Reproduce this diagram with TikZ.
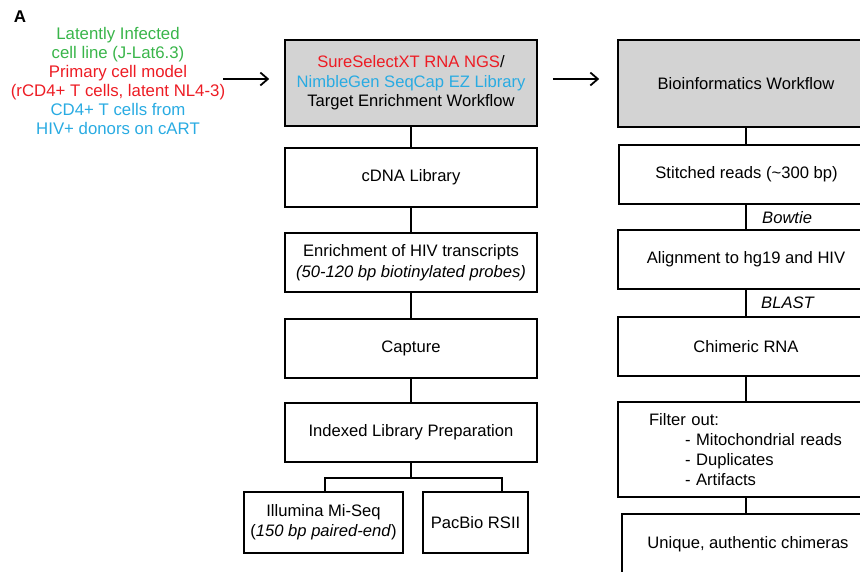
\documentclass[tikz,border=0pt]{standalone}
\usepackage{fontspec}
\setmainfont{Liberation Sans}
\usetikzlibrary{arrows.meta}
\definecolor{ggreen}{RGB}{57,181,74}
\definecolor{rred}{RGB}{237,28,36}
\definecolor{bblue}{RGB}{41,171,226}
\definecolor{hdrgray}{RGB}{211,211,211}
\tikzset{
  box/.style={draw=black, line width=1.6pt, fill=white, inner sep=0pt, align=center,
    font=\fontsize{16.6}{20}\selectfont},
  hdr/.style={box, fill=hdrgray},
  conn/.style={line width=1.6pt},
  arr/.style={line width=1.8pt, -{Straight Barb[length=7.5pt,width=13pt,line width=1.8pt]}},
  lab/.style={anchor=west, inner sep=0pt, font=\fontsize{16.6}{20}\selectfont\itshape}
}
\begin{document}
\begin{tikzpicture}[x=1pt,y=-1pt]
\useasboundingbox (0,0) rectangle (860,572);
\clip (0,0) rectangle (860,572);
% panel letter
\node[font=\fontsize{17}{20}\selectfont\bfseries, inner sep=0pt] (A) at (20,17) {A};
% source text
\node[inner sep=0pt, align=center, font=\fontsize{16.8}{19}\selectfont] (src) at (118,81)
 {\textcolor{ggreen}{Latently Infected}\\
  \textcolor{ggreen}{cell line (J-Lat6.3)}\\
  \textcolor{rred}{Primary cell model}\\
  \textcolor{rred}{(rCD4+ T cells, latent NL4-3)}\\
  \textcolor{bblue}{CD4+ T cells from}\\
  \textcolor{bblue}{HIV+ donors on cART}};
% middle column
\node[hdr, minimum width=252pt, minimum height=86pt, font=\fontsize{16.6}{19.5}\selectfont] (h1) at (411,83)
 {\textcolor{rred}{SureSelectXT RNA NGS}/\\
  \textcolor{bblue}{NimbleGen SeqCap EZ Library}\\
  Target Enrichment Workflow};
\node[box, minimum width=252pt, minimum height=59pt] (cdna) at (411,177.5) {cDNA Library};
\node[box, minimum width=252pt, minimum height=59pt, font=\fontsize{16.6}{20.5}\selectfont] (enr) at (411,262.5)
 {Enrichment of HIV transcripts\\ \textit{(50-120 bp biotinylated probes)}};
\node[box, minimum width=252pt, minimum height=59pt] (cap) at (411,348.5) {Capture};
\node[box, minimum width=252pt, minimum height=59pt] (idx) at (411,432.5) {Indexed Library Preparation};
\node[box, minimum width=159pt, minimum height=61pt] (ill) at (323.5,522.5)
 {Illumina Mi-Seq\\ (\textit{150 bp paired-end})};
\node[box, minimum width=105pt, minimum height=61pt] (pac) at (475.5,522.5) {PacBio RSII};
\draw[conn] (h1.south) -- (cdna.north);
\draw[conn] (cdna.south) -- (enr.north);
\draw[conn] (enr.south) -- (cap.north);
\draw[conn] (cap.south) -- (idx.north);
\coordinate (brL) at (325,478);
\coordinate (brR) at (502,478);
\draw[conn] (idx.south) -- (idx.south |- brL);
\draw[conn] (brL |- ill.north) -- (brL) -- (brR) -- (brR |- pac.north);
% right column
\node[hdr, minimum width=256pt, minimum height=87pt] (h2) at (746,83.5) {Bioinformatics Workflow};
\node[box, minimum width=255pt, minimum height=59pt] (st) at (746.5,174.5) {Stitched reads (\textasciitilde300 bp)};
\node[box, minimum width=256pt, minimum height=59pt] (al) at (746,259.5) {Alignment to hg19 and HIV};
\node[box, minimum width=256pt, minimum height=59pt] (chim) at (746,346.5) {Chimeric RNA};
\node[box, text width=194pt, inner xsep=31pt, minimum height=95pt, align=left,
      font=\fontsize{16.6}{20}\selectfont] (filt) at (746,449.5)
 {Filter out:\\
  \hspace*{36pt}- Mitochondrial reads\\
  \hspace*{36pt}- Duplicates\\
  \hspace*{36pt}- Artifacts};
\node[box, minimum width=252pt, minimum height=60pt] (uniq) at (748,544) {Unique, authentic chimeras};
\draw[conn] (h2.south) -- (h2.south |- st.north);
\draw[conn] (h2.south |- st.south) -- (h2.south |- al.north);
\draw[conn] (h2.south |- al.south) -- (h2.south |- chim.north);
\draw[conn] (h2.south |- chim.south) -- (h2.south |- filt.north);
\draw[conn] (h2.south |- filt.south) -- (h2.south |- uniq.north);
\node[lab] (bow) at (762,218) {Bowtie};
\node[lab] (bl) at (761,303) {BLAST};
% arrows
\draw[arr, shorten >=15pt] (223,79) -- (h1.west |- 0,79);
\draw[arr, shorten <=15pt, shorten >=18pt] (h1.east |- 0,79) -- (h2.west |- 0,79);
\end{tikzpicture}
\end{document}
